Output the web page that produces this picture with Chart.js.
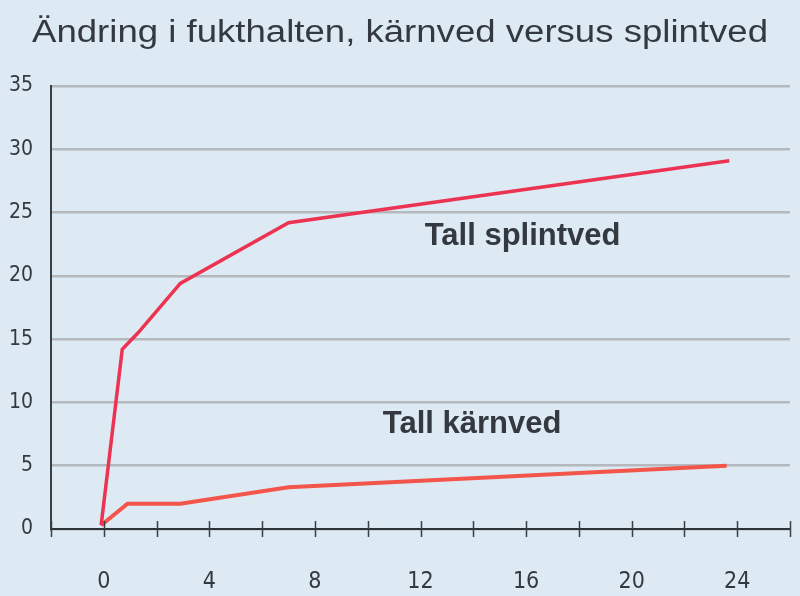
<!DOCTYPE html>
<html>
<head>
<meta charset="utf-8">
<script src="https://cdn.jsdelivr.net/npm/chart.js@4.4.1/dist/chart.umd.min.js"></script>
<style>
    html, body { margin: 0; padding: 0; background: #dde9f3; }
    #wrap { width: 800px; height: 596px; }
</style>
</head>
<body>
<div id="wrap"><canvas id="fuktChart" width="800" height="596"></canvas></div>
<script>
// values (x = tid, y = fukthalt %)
const splintX = [-0.1, 0.7, 1.3, 2.9, 7.0, 23.7];
const splintY = [0.3, 14.2, 15.5, 19.4, 24.2, 29.1];
const karnX = [-0.1, 0.9, 2.9, 7.0, 23.6];
const karnY = [0.3, 2.0, 2.0, 3.3, 5.0];

const xLabels = [0, 4, 8, 12, 16, 20, 24];
const yTicks = [0, 5, 10, 15, 20, 25, 30, 35];

const chartTitle = 'Ändring i fukthalten, kärnved versus splintved';

// in-chart series labels: [text, x, y]
const seriesNotes = [
    ['Tall splintved', 12.16, 22.4],
    ['Tall kärnved', 10.57, 7.56]
];

const textColor = '#33393f';
const narrowFont = '"Liberation Sans Narrow", "DejaVu Sans Condensed", sans-serif';

const toPoints = (xs, ys) => xs.map((x, i) => ({ x: x, y: ys[i] }));

// title (a bit stretched like the original), crossing tick marks, in-plot labels
const decorPlugin = {
    id: 'decor',
    beforeDraw(chart) {
        const { ctx } = chart;
        ctx.save();
        ctx.fillStyle = textColor;
        ctx.font = '31px "Liberation Sans", Arial, sans-serif';
        ctx.textAlign = 'center';
        ctx.textBaseline = 'alphabetic';
        const w = ctx.measureText(chartTitle).width;
        const sx = 736 / w;
        ctx.translate(400, 42);
        ctx.scale(sx, 1);
        ctx.fillText(chartTitle, 0, 0);
        ctx.restore();
    },
    afterDatasetsDraw(chart) {
        const { ctx, scales } = chart;
        const xs = scales.x, ys = scales.y;
        const y0 = ys.getPixelForValue(0);
        ctx.save();
        ctx.strokeStyle = '#3a3f45';
        ctx.lineWidth = 1.5;
        for (let v = -2; v <= 26; v += 2) {
            const px = Math.round(xs.getPixelForValue(v)) + 0.5;
            ctx.beginPath();
            ctx.moveTo(px, y0 - 8);
            ctx.lineTo(px, y0 + 8);
            ctx.stroke();
        }
        ctx.fillStyle = textColor;
        ctx.font = 'bold 31px "Liberation Sans", Arial, sans-serif';
        ctx.textAlign = 'left';
        ctx.textBaseline = 'alphabetic';
        seriesNotes.forEach(n => {
            ctx.fillText(n[0], xs.getPixelForValue(n[1]), ys.getPixelForValue(n[2]));
        });
        ctx.restore();
    }
};

const ctx = document.getElementById('fuktChart').getContext('2d');
new Chart(ctx, {
    type: 'line',
    data: {
        datasets: [{
            label: 'Tall splintved',
            data: toPoints(splintX, splintY),
            borderColor: '#ec3352',
            borderWidth: 3.5,
            pointRadius: 0,
            tension: 0,
            fill: false
        }, {
            label: 'Tall kärnved',
            data: toPoints(karnX, karnY),
            borderColor: '#f4554b',
            borderWidth: 4,
            pointRadius: 0,
            tension: 0,
            fill: false
        }]
    },
    options: {
        responsive: false,
        animation: false,
        layout: { padding: { top: 86, right: 10, bottom: 0, left: 0 } },
        plugins: {
            legend: { display: false },
            tooltip: { enabled: false },
            title: { display: false }
        },
        scales: {
            x: {
                type: 'linear',
                min: -2,
                max: 26,
                afterBuildTicks: (scale) => {
                    scale.ticks = xLabels.map(v => ({ value: v }));
                },
                afterFit: (scale) => { scale.height = 67; },
                grid: { display: false },
                border: { display: true, color: '#2f343a', width: 2 },
                ticks: {
                    color: textColor,
                    padding: 31,
                    maxRotation: 0,
                    font: { family: narrowFont, size: 23 }
                }
            },
            y: {
                min: 0,
                max: 35,
                afterBuildTicks: (scale) => {
                    scale.ticks = yTicks.map(v => ({ value: v }));
                },
                afterFit: (scale) => { scale.width = 51; },
                grid: { color: '#b5b9bd', lineWidth: 2.5, drawTicks: false },
                border: { display: true, color: '#3a3f45', width: 2 },
                ticks: {
                    color: textColor,
                    padding: 18,
                    font: { family: narrowFont, size: 21 }
                }
            }
        }
    },
    plugins: [decorPlugin]
});
</script>
</body>
</html>
